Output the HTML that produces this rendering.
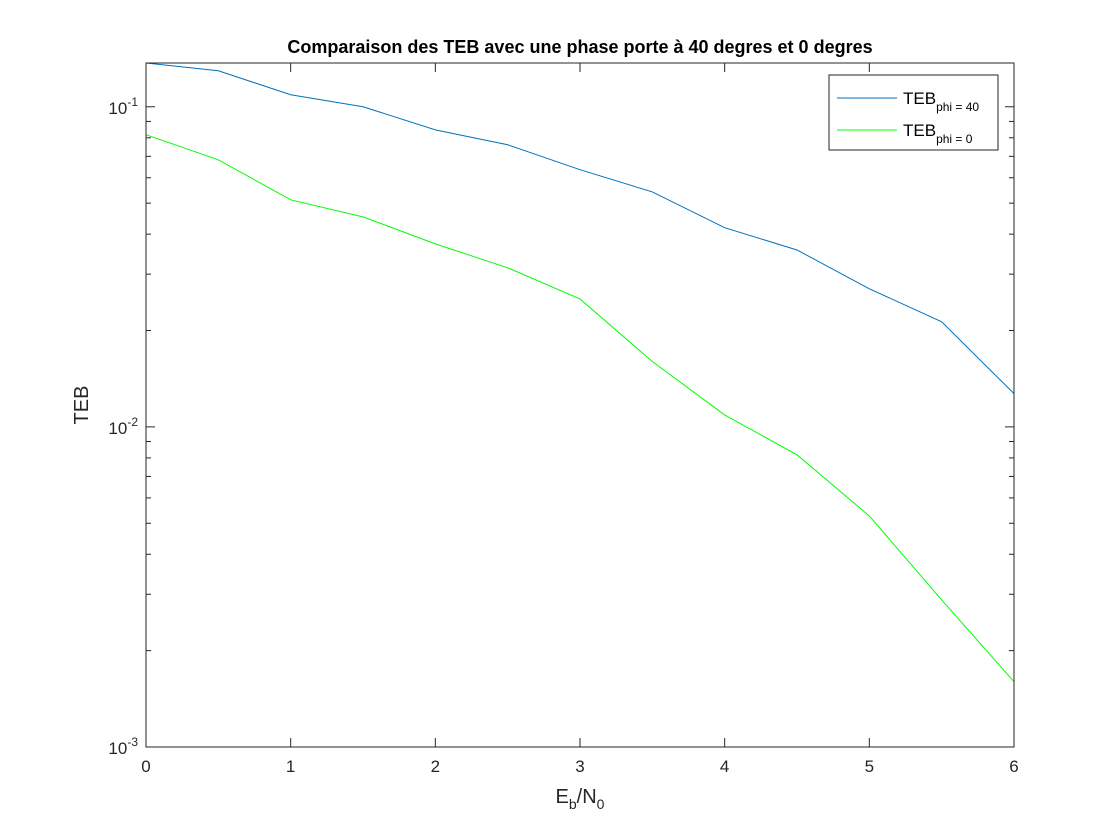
<!DOCTYPE html>
<html><head><meta charset="utf-8"><style>
body{margin:0;background:#fff;}
svg{display:block;font-family:"Liberation Sans",sans-serif;}
</style></head><body>
<svg id="chart" width="1120" height="840"></svg>
<script>
const xValues=[0,0.5,1,1.5,2,2.5,3,3.5,4,4.5,5,5.5,6];
const tebPhi40=[0.137,0.1296,0.109,0.1,0.0847,0.0761,0.0636,0.0542,0.0419,0.0357,0.027,0.0213,0.0127];
const tebPhi0=[0.0818,0.0683,0.0512,0.0453,0.0373,0.0314,0.0251,0.016,0.0109,0.00818,0.00527,0.00288,0.0016];
const xTicks=[0,1,2,3,4,5,6];
const yDecades=[-3,-2,-1];
const X0=146,X1=1014,Y0=63,Y1=747;
const xMin=0,xMax=6,logMin=-3,logMax=Math.log10(0.137);
const sx=v=>X0+(v-xMin)/(xMax-xMin)*(X1-X0);
const sy=v=>Y1-(Math.log10(v)-logMin)/(logMax-logMin)*(Y1-Y0);
const svg=document.getElementById('chart');
const NS='http://www.w3.org/2000/svg';
function mk(tag,attrs,parent){const e=document.createElementNS(NS,tag);for(const k in attrs)e.setAttribute(k,attrs[k]);(parent||svg).appendChild(e);return e;}
const bg=mk('rect',{x:X0,y:Y0,width:X1-X0,height:Y1-Y0,fill:'#fff'});


xTicks.forEach(t=>{
 const x=sx(t);
 const a=mk('line',{x1:x,y1:Y1,x2:x,y2:Y1-9,stroke:'#262626','stroke-width':1});
 
 
 mk('line',{x1:x,y1:Y0,x2:x,y2:Y0+9,stroke:'#262626','stroke-width':1});
 const l=mk('text',{x:x,y:Y1+25,'font-size':17,'text-anchor':'middle',fill:'#262626'});
 l.textContent=t;
 
 
});
yDecades.forEach(d=>{
 const y=sy(Math.pow(10,d));
 mk('line',{x1:X0,y1:y,x2:X0+9,y2:y,stroke:'#262626'});
 mk('line',{x1:X1,y1:y,x2:X1-9,y2:y,stroke:'#262626'});
 const l=mk('text',{x:X0-8,y:y+7,'font-size':17,'text-anchor':'end',fill:'#262626'});
 
 
 l.innerHTML='10<tspan dy="-8" font-size="12">'+d+'</tspan>';
 for(let m=2;m<=9;m++){
  const v=m*Math.pow(10,d);
  if(Math.log10(v)>logMax)continue;
  const yy=sy(v);
  mk('line',{x1:X0,y1:yy,x2:X0+5,y2:yy,stroke:'#262626'});
  mk('line',{x1:X1,y1:yy,x2:X1-5,y2:yy,stroke:'#262626'});
 }
});
function series(vals,color,name){
 const p=mk('polyline',{points:xValues.map((x,i)=>sx(x)+','+sy(vals[i])).join(' '),fill:'none',stroke:color,'stroke-width':1});
 
 
}
series(tebPhi40,'#0072bd','line-phi-40');
series(tebPhi0,'#00ff00','line-phi-0');
const fr=mk('rect',{x:X0,y:Y0,width:X1-X0,height:Y1-Y0,fill:'none',stroke:'#262626','stroke-width':1});


const t=mk('text',{x:580,y:53,'font-size':18,'font-weight':'bold','text-anchor':'middle',fill:'#000'});
t.textContent='Comparaison des TEB avec une phase porte à 40 degres et 0 degres';


const xl=mk('text',{x:580,y:803,'font-size':20,'text-anchor':'middle',fill:'#262626'});
xl.innerHTML='E<tspan dy="6" font-size="14">b</tspan><tspan dy="-6">/N</tspan><tspan dy="6" font-size="14">0</tspan>';


const yl=mk('text',{x:0,y:0,'font-size':20,'text-anchor':'middle',fill:'#262626',transform:'translate(88,405) rotate(-90)'});
yl.textContent='TEB';


const lg=mk('g',{});


mk('rect',{x:829,y:75,width:169,height:75,fill:'#fff',stroke:'#262626'},lg);
[['#0072bd','phi = 40',98],['#00ff00','phi = 0',130]].forEach(([c,s,y])=>{
 const e=mk('g',{},lg);
 
 
 mk('line',{x1:837,y1:y,x2:897,y2:y,stroke:c},e);
 const tx=mk('text',{x:903,y:y+6,'font-size':17,fill:'#000'},e);
 tx.innerHTML='TEB<tspan dy="7" font-size="12">'+s+'</tspan>';
});
</script>
</body></html>
